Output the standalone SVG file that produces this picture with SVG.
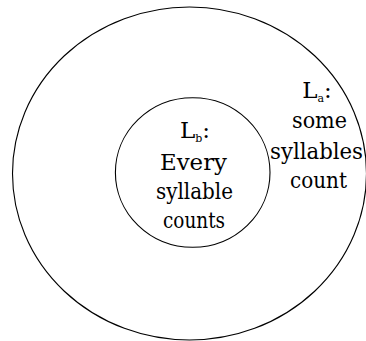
<svg xmlns="http://www.w3.org/2000/svg" width="366" height="341" viewBox="0 0 366 341">
<style>
.ring{fill:none;stroke:#000;stroke-width:1.1}
.t{font-family:'DejaVu Serif',serif;font-size:23px;fill:#000;text-anchor:middle}
.sub{font-size:11px}
</style>
<rect width="366" height="341" fill="#fff"/>
<g id="outer">
<ellipse class="ring" cx="189.5" cy="173.5" rx="177" ry="166.5"/>
<text class="t" x="317" y="98">L<tspan class="sub" dy="4">a</tspan><tspan dy="-4">:</tspan></text>
<text class="t" x="319.5" y="128" textLength="55" lengthAdjust="spacingAndGlyphs">some</text>
<text class="t" x="316.5" y="159" textLength="93" lengthAdjust="spacingAndGlyphs">syllables</text>
<text class="t" x="318.5" y="188" textLength="57" lengthAdjust="spacingAndGlyphs">count</text>
</g>
<g id="inner">
<ellipse class="ring" cx="192.7" cy="172.5" rx="77.3" ry="74.8"/>
<text class="t" x="195" y="138">L<tspan class="sub" dy="4">b</tspan><tspan dy="-4">:</tspan></text>
<text class="t" x="193.5" y="170" textLength="67" lengthAdjust="spacingAndGlyphs">Every</text>
<text class="t" x="194.5" y="199" textLength="77" lengthAdjust="spacingAndGlyphs">syllable</text>
<text class="t" x="194" y="228" textLength="62" lengthAdjust="spacingAndGlyphs">counts</text>
</g>
<g id="connectors"/>
</svg>
